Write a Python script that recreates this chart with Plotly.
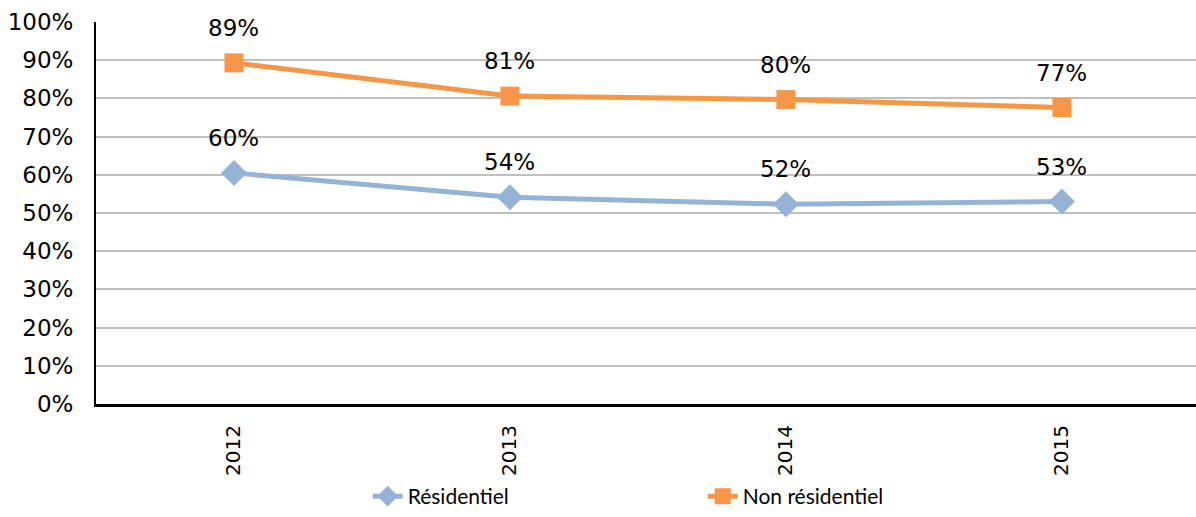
import plotly.graph_objects as go

years = ["2012", "2013", "2014", "2015"]
residentiel = [0.605, 0.541, 0.523, 0.530]
non_residentiel = [0.893, 0.806, 0.797, 0.776]
label_res = ["60%", "54%", "52%", "53%"]
label_non = ["89%", "81%", "80%", "77%"]

BLUE = "#95B3D7"
ORANGE = "#F79646"
TICK_FONT = dict(family="DejaVu Sans", size=23, color="black")

fig = go.Figure()

fig.add_trace(go.Scatter(
    x=years, y=residentiel, name="Résidentiel", mode="lines+markers",
    line=dict(color=BLUE, width=5),
    marker=dict(symbol="diamond", size=20, color=BLUE),
))
fig.add_trace(go.Scatter(
    x=years, y=non_residentiel, name="Non résidentiel", mode="lines+markers",
    line=dict(color=ORANGE, width=5),
    marker=dict(symbol="square", size=19, color=ORANGE),
))

# data labels above the points (category index for x)
for series, labels in [(residentiel, label_res), (non_residentiel, label_non)]:
    for i, (y, t) in enumerate(zip(series, labels)):
        fig.add_annotation(x=i, y=y, text=t, showarrow=False, yshift=35,
                           font=TICK_FONT)

fig.update_layout(
    width=1196, height=517,
    margin=dict(l=96, r=0, t=22, b=113),
    plot_bgcolor="white", paper_bgcolor="white",
    showlegend=True,
    legend=dict(orientation="h", x=0.247, xanchor="left",
                yref="container", y=-0.012, yanchor="bottom",
                font=dict(family="Lato", size=21, color="black"),
                entrywidth=290, entrywidthmode="pixels"),
)

fig.update_yaxes(
    range=[0, 1], dtick=0.1, tickformat=".0%",
    showgrid=True, gridcolor="#c0c0c0", gridwidth=2,
    showline=True, linecolor="black", linewidth=2,
    ticks="", tickfont=TICK_FONT, ticklabelstandoff=16,
    zeroline=False, automargin=False,
)
fig.update_xaxes(
    type="category", range=[-0.5, 3.486], tickangle=-90,
    showline=True, linecolor="black", linewidth=3,
    ticks="", tickfont=dict(family="DejaVu Sans", size=20, color="black"),
    ticklabelstandoff=10, showgrid=False, automargin=False,
)

fig.write_html("out.html", config={"displayModeBar": False},
               post_script="document.body.style.margin='0';")
